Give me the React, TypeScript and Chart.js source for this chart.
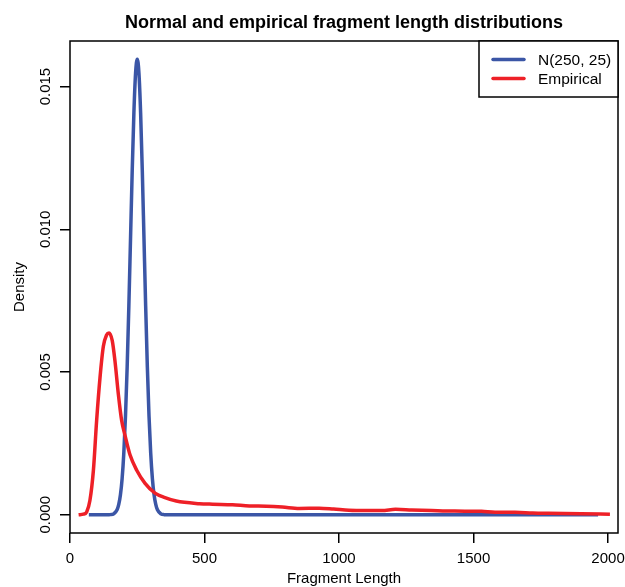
import React, { useEffect, useRef } from "react";
import { Chart, registerables } from "chart.js";

Chart.register(...registerables);

const TITLE = "Normal and empirical fragment length distributions";
const X_TITLE = "Fragment Length";
const Y_TITLE = "Density";
const X_TICKS = [0, 500, 1000, 1500, 2000];
const Y_TICKS = [0, 0.005, 0.01, 0.015];
const Y_TICK_LABELS = ["0.000", "0.005", "0.010", "0.015"];
const SERIES_NAMES = ["N(250, 25)", "Empirical"];

const normalX = [70, 100, 125, 137.5, 150, 162.5, 175, 181.25, 187.5, 193.75, 200, 206.25, 212.5, 218.75, 225, 231.25, 237.5, 243.75, 250, 256.25, 262.5, 268.75, 275, 281.25, 287.5, 293.75, 300, 306.25, 312.5, 318.75, 325, 337.5, 350, 375, 400, 1963];
const normalY = [0, 0, 0, 0, 0.0000053, 0.0000349, 0.000177, 0.000364, 0.000701, 0.00127, 0.00216, 0.00345, 0.00518, 0.00731, 0.00968, 0.01205, 0.01408, 0.01547, 0.01596, 0.01547, 0.01408, 0.01205, 0.00968, 0.00731, 0.00518, 0.00345, 0.00216, 0.00127, 0.000701, 0.000364, 0.000177, 0.0000349, 0.0000053, 0, 0, 0];

const empX = [32, 50, 62, 74, 87, 99, 111.5, 124, 136, 145, 157, 167, 180, 192, 204, 223, 248, 279, 316, 353, 395, 481, 530, 604, 667, 730, 789, 852, 926, 980, 1037, 1100, 1159, 1210, 1270, 1344, 1430, 1530, 1580, 1654, 1720, 1778, 1900, 2007];
const empY = [0, 0.00002, 0.0001, 0.0005, 0.00156, 0.0033, 0.0048, 0.0059, 0.0063, 0.00637, 0.0061, 0.0054, 0.0042, 0.0033, 0.0028, 0.0021, 0.00156, 0.0011, 0.00076, 0.0006, 0.00048, 0.00039, 0.00037, 0.00035, 0.00031, 0.0003, 0.00027, 0.00022, 0.00023, 0.0002, 0.00016, 0.00015, 0.00015, 0.00019, 0.00017, 0.00015, 0.00013, 0.00012, 0.00009, 0.00009, 0.00006, 0.00005, 0.00004, 0.00002];

const BLUE = "#3B56A6";
const RED = "#EE2027";
const FONT = '"Liberation Sans", Arial, Helvetica, sans-serif';

const decor = {
  id: "decor",
  afterDraw(chart: any) {
    const { ctx, chartArea: a, scales } = chart;
    const xs = scales.x;
    const ys = scales.y;
    ctx.save();
    ctx.strokeStyle = "#000";
    ctx.lineWidth = 1.5;
    ctx.strokeRect(a.left, a.top, a.right - a.left, a.bottom - a.top);

    ctx.fillStyle = "#000";
    ctx.font = `bold 18px ${FONT}`;
    ctx.textAlign = "center";
    ctx.textBaseline = "alphabetic";
    ctx.fillText(TITLE, (a.left + a.right) / 2, 28);

    ctx.font = `15px ${FONT}`;
    X_TICKS.forEach((v) => {
      ctx.fillText(String(v), xs.getPixelForValue(v), 562.5);
    });
    ctx.fillText(X_TITLE, (a.left + a.right) / 2, 583);

    Y_TICKS.forEach((v, i) => {
      ctx.save();
      ctx.translate(50, ys.getPixelForValue(v));
      ctx.rotate(-Math.PI / 2);
      ctx.fillText(Y_TICK_LABELS[i], 0, 0);
      ctx.restore();
    });
    ctx.save();
    ctx.translate(23.5, (a.top + a.bottom) / 2);
    ctx.rotate(-Math.PI / 2);
    ctx.fillText(Y_TITLE, 0, 0);
    ctx.restore();

    const lx = 479, ly = a.top, lw = a.right - 479, lh = 56;
    ctx.fillStyle = "#fff";
    ctx.fillRect(lx, ly, lw, lh);
    ctx.strokeStyle = "#000";
    ctx.lineWidth = 1.5;
    ctx.strokeRect(lx, ly, lw, lh);
    const colors = [BLUE, RED];
    const rowsY = [59.5, 78.5];
    ctx.font = `15.5px ${FONT}`;
    ctx.textAlign = "left";
    SERIES_NAMES.forEach((name, i) => {
      ctx.strokeStyle = colors[i];
      ctx.lineWidth = 3.5;
      ctx.lineCap = "round";
      ctx.beginPath();
      ctx.moveTo(493, rowsY[i]);
      ctx.lineTo(524, rowsY[i]);
      ctx.stroke();
      ctx.fillStyle = "#000";
      ctx.fillText(name, 538, rowsY[i] + 5.5);
    });
    ctx.restore();
  },
};

export default function App() {
  const ref = useRef<HTMLCanvasElement>(null);
  useEffect(() => {
    if (!ref.current) return;
    const chart = new Chart(ref.current, {
      type: "line",
      data: {
        datasets: [
          {
            label: SERIES_NAMES[1],
            data: empX.map((x, i) => ({ x, y: empY[i] })),
            borderColor: RED,
            borderWidth: 3.5,
            pointRadius: 0,
            cubicInterpolationMode: "monotone",
            fill: false,
            order: 0,
          },
          {
            label: SERIES_NAMES[0],
            data: normalX.map((x, i) => ({ x, y: normalY[i] })),
            borderColor: BLUE,
            borderWidth: 3.5,
            pointRadius: 0,
            cubicInterpolationMode: "monotone",
            fill: false,
            order: 1,
          },
        ],
      },
      options: {
        animation: false,
        responsive: true,
        maintainAspectRatio: false,
        layout: { padding: { left: 0, top: 41, right: 7, bottom: 0 } },
        plugins: { legend: { display: false }, tooltip: { enabled: false }, title: { display: false } },
        scales: {
          x: {
            type: "linear",
            min: 0,
            max: 2037,
            afterBuildTicks: (s: any) => {
              s.ticks = X_TICKS.map((v) => ({ value: v }));
            },
            afterFit: (s: any) => {
              s.height = 54;
            },
            ticks: { display: false },
            border: { display: false },
            grid: { drawOnChartArea: false, drawTicks: true, tickLength: 10, color: "#000", lineWidth: 1.5 },
          },
          y: {
            type: "linear",
            min: -0.000638,
            max: 0.016596,
            afterBuildTicks: (s: any) => {
              s.ticks = Y_TICKS.map((v) => ({ value: v }));
            },
            afterFit: (s: any) => {
              s.width = 70;
            },
            ticks: { display: false },
            border: { display: false },
            grid: { drawOnChartArea: false, drawTicks: true, tickLength: 10, color: "#000", lineWidth: 1.5 },
          },
        },
      },
      plugins: [decor],
    });
    return () => chart.destroy();
  }, []);
  return (
    <div style={{ position: "fixed", left: 0, top: 0, width: 625, height: 587, background: "#fff" }}>
      <canvas ref={ref} />
    </div>
  );
}
